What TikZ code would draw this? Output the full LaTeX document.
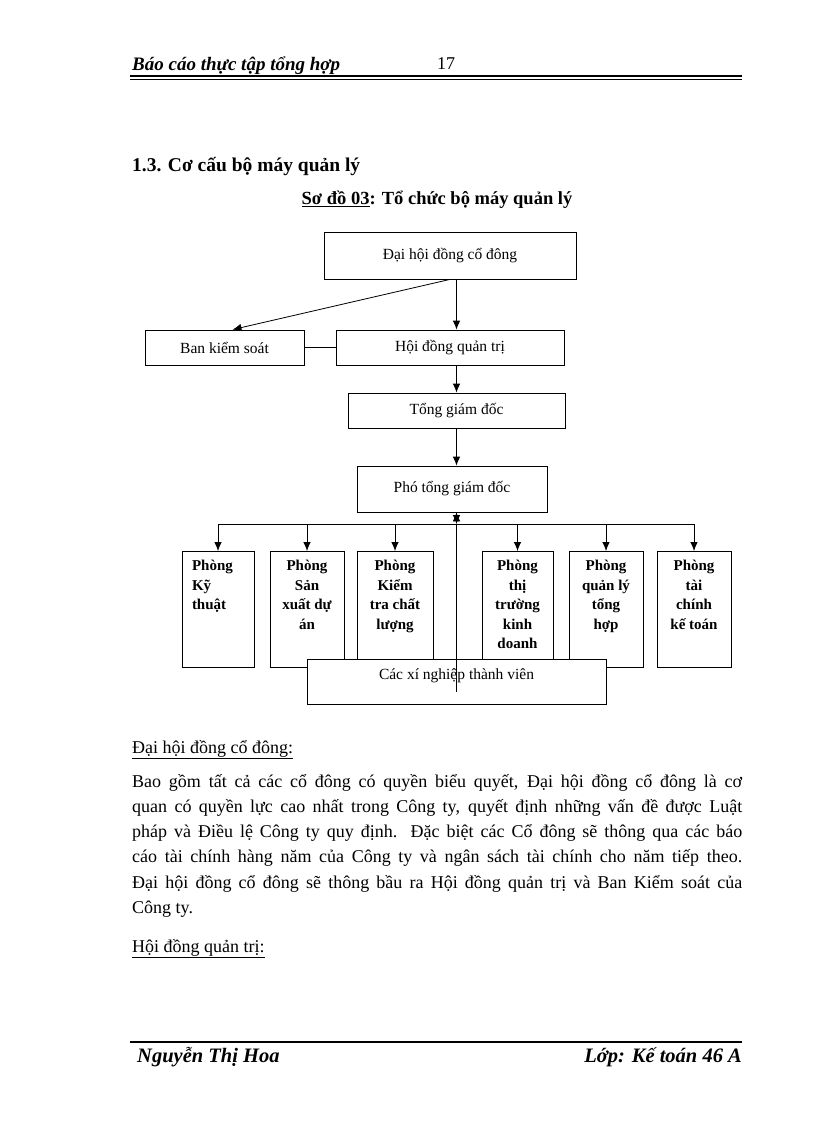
\documentclass[tikz,border=0pt]{standalone}
\usepackage{fontspec}
\setmainfont{Liberation Serif}
\usetikzlibrary{arrows.meta,calc}

\newcommand{\deptbox}[2]{\parbox[t][98pt][t]{#1}{\centering #2}}

\begin{document}
\begin{tikzpicture}[x=1pt,y=-1pt,>={Latex[length=9pt,width=7.5pt]}]
		\useasboundingbox[fill=white] (0,0) rectangle (816,1123);
		\tikzstyle{box}=[draw,line width=0.8pt,inner sep=0pt,font=\fontsize{15.5}{18}\selectfont]
		\tikzstyle{dept}=[draw,line width=0.8pt,anchor=north,inner xsep=3pt,inner ysep=9pt,font=\bfseries\fontsize{15}{19.5}\selectfont]
		\tikzstyle{txt}=[anchor=base west,inner sep=0pt,font=\fontsize{18}{25.2}\selectfont]
		% header and titles
		\node[txt,font=\bfseries\itshape\fontsize{19}{22}\selectfont] (hdr) at (132,71) {Báo cáo thực tập tổng hợp};
		\node[txt] (pg) at (437,70) {17};
		\draw[line width=1.6pt] (130,76) -- (742,76);
		\draw[line width=0.5pt] (130,78.8) -- (742,78.8);
		\node[txt,font=\bfseries\fontsize{19.5}{22}\selectfont] (sec) at (132,172) {1.3. Cơ cấu bộ máy quản lý};
		\node[txt,anchor=base,font=\bfseries\fontsize{18.5}{22}\selectfont] (cap) at (437,205) {\underline{Sơ đồ 03}: Tổ chức bộ máy quản lý};
		% chart
		\node[box,minimum width=252,minimum height=47] (dhcd) at (450,255.5) {Đại hội đồng cổ đông};
		\node[box,minimum width=159,minimum height=35] (bks) at (224.5,347.5) {Ban kiểm soát};
		\node[box,minimum width=228,minimum height=35] (hdqt) at (450,347.5) {Hội đồng quản trị};
		\node[box,minimum width=217,minimum height=35] (tgd) at (456.5,410.5) {Tổng giám đốc};
		\node[box,minimum width=190,minimum height=46] (ptgd) at (452,489) {Phó tổng giám đốc};
		\node[dept] (p1) at (218,551) {\parbox[t][98pt][t]{66pt}{\leftskip7pt Phòng\\Kỹ\\thuật}};
		\node[dept] (p2) at (307,551) {\deptbox{68pt}{Phòng\\Sản\\xuất dự\\án}};
		\node[dept] (p3) at (395,551) {\deptbox{70pt}{Phòng\\Kiểm\\tra chất\\lượng}};
		\node[dept] (p4) at (517.5,551) {\deptbox{65pt}{Phòng\\thị\\trường\\kinh\\doanh}};
		\node[dept] (p5) at (606,551) {\deptbox{68pt}{Phòng\\quản lý\\tổng\\hợp}};
		\node[dept] (p6) at (694,551) {\deptbox{68pt}{Phòng\\tài\\chính\\kế toán}};
		\node[box,fill=white,minimum width=299,inner ysep=4pt,text height=16pt,text depth=21pt] (xn) at (456.5,681.5) {Các xí nghiệp thành viên};
		\coordinate (bus) at (456.5,524);
		\tikzstyle{every edge}+=[line width=0.8pt]
		\draw[->] (dhcd.south -| tgd) edge (hdqt.north -| tgd)
			  (dhcd.south) edge ([xshift=8pt]bks.north)
			  (hdqt.south -| tgd) edge (tgd)
			  (tgd) edge (ptgd.north -| tgd)
			  (ptgd.south -| tgd) edge (bus);
		\draw[line width=0.8pt] (bks) -- (hdqt);
		\draw[line width=0.8pt] (bus -| p1) -- (bus -| p6);
		\foreach \p in {p1,p2,p3,p4,p5,p6}
			\draw[->,line width=0.8pt] (bus -| \p) -- (\p);
		\draw[line width=0.8pt] (bus) -- ([yshift=12pt]xn.south -| tgd);
		% text below
		\node[txt] (h1) at (132,753) {\underline{Đại hội đồng cổ đông:}};
		\node[txt,anchor=north west,text width=610pt,align=justify] (para) at (132,774) {\hyphenpenalty=10000\tolerance=9999
			Bao gồm tất cả các cổ đông có quyền biểu quyết, Đại hội đồng cổ đông là cơ\linebreak
			quan có quyền lực cao nhất trong Công ty, quyết định những vấn đề được Luật\linebreak
			pháp và Điều lệ Công ty quy định. Đặc biệt các Cổ đông sẽ thông qua các báo\linebreak
			cáo tài chính hàng năm của Công ty và ngân sách tài chính cho năm tiếp theo.\linebreak
			Đại hội đồng cổ đông sẽ thông bầu ra Hội đồng quản trị và Ban Kiểm soát của\linebreak
			Công ty.};
		\node[txt] (h2) at (132,952) {\underline{Hội đồng quản trị:}};
		% footer
		\draw[line width=1.5pt] (130,1042) -- (742,1042);
		\node[txt,font=\bfseries\itshape\fontsize{20.5}{24}\selectfont] (author) at (137,1062) {Nguyễn Thị Hoa};
		\node[txt,anchor=base east,font=\bfseries\itshape\fontsize{20.5}{24}\selectfont] (cls) at (742,1062) {Lớp: Kế toán 46 A};
\end{tikzpicture}
\end{document}
